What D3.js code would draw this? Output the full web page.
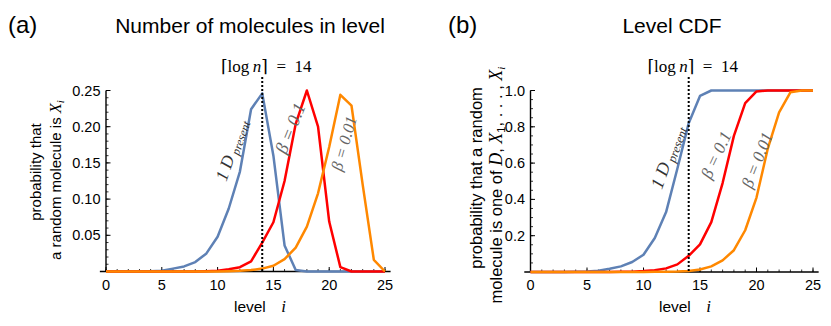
<!DOCTYPE html>
<html>
<head>
<meta charset="utf-8">
<script src="https://cdn.jsdelivr.net/npm/d3@7"></script>
<style>
  body { margin: 0; background: #fff; }
  svg { display: block; }
  text { font-family: "Liberation Sans", Arial, sans-serif; fill: #000; }
  .serif { font-family: "Liberation Serif", "DejaVu Serif", serif; }
  .it { font-style: italic; }
</style>
</head>
<body>
<svg id="chart" width="831" height="326"></svg>
<script>
// ---- data ----
const levels = [0, 1, 2, 3, 4, 5, 6, 7, 8, 9, 10, 11, 12, 13, 14, 15, 16, 17, 18, 19, 20, 21, 22, 23, 24, 25];
const logN = 14;
const xTicks = [0, 5, 10, 15, 20, 25];

// panel (a): number of molecules in level
const countTicks = [0.05, 0.10, 0.15, 0.20, 0.25];
const countTickLabels = ["0.05", "0.10", "0.15", "0.20", "0.25"];
const countOneD = [0, 0, 0, 0, 0.0005, 0.001, 0.004, 0.007, 0.013, 0.025, 0.048, 0.087, 0.138, 0.224, 0.246, 0.16, 0.036, 0.002, 0, 0, 0, 0, 0, 0, 0, 0];
const countBeta01 = [0, 0, 0, 0, 0, 0, 0, 0, 0, 0.0005, 0.001, 0.003, 0.006, 0.014, 0.04, 0.068, 0.125, 0.204, 0.25, 0.2, 0.069, 0.006, 0, 0, 0, 0];
const countBeta001 = [0, 0, 0, 0, 0, 0, 0, 0, 0, 0, 0, 0.0005, 0.001, 0.002, 0.004, 0.008, 0.017, 0.033, 0.062, 0.108, 0.172, 0.244, 0.229, 0.12, 0.016, 0];

// panel (b): level CDF
const cdfTicks = [0.2, 0.4, 0.6, 0.8, 1.0];
const cdfTickLabels = ["0.2", "0.4", "0.6", "0.8", "1.0"];
const cdfOneD = [0, 0, 0, 0, 0.001, 0.003, 0.007, 0.018, 0.031, 0.055, 0.095, 0.187, 0.33, 0.57, 0.82, 0.97, 1, 1, 1, 1, 1, 1, 1, 1, 1, 1];
const cdfBeta01 = [0, 0, 0, 0, 0, 0, 0, 0, 0.001, 0.002, 0.005, 0.01, 0.02, 0.042, 0.089, 0.152, 0.275, 0.49, 0.75, 0.93, 0.995, 1, 1, 1, 1, 1];
const cdfBeta001 = [0, 0, 0, 0, 0, 0, 0, 0, 0, 0, 0, 0.001, 0.002, 0.003, 0.006, 0.014, 0.031, 0.064, 0.12, 0.23, 0.41, 0.68, 0.88, 0.99, 1, 1];

const BLUE = "#5e81b5";
const RED = "#ff0000";
const ORANGE = "#ff8800";

const svg = d3.select("#chart");

function drawPanel(p) {
    const x = d3.scaleLinear().domain([0, 25]).range(p.xRange);
    const y = d3.scaleLinear().domain(p.yDomain).range(p.yRange);
    const g = svg.append("g").attr("class", "panel");

    // panel letter and title
    g.append("text").attr("x", p.letterX).attr("y", 32.5)
        .style("font-size", "24px").text(p.letter);
    g.append("text").attr("x", p.titleX).attr("y", 33)
        .attr("text-anchor", "middle").style("font-size", "21px").text(p.title);

    // axes
    const axis = g.append("g").attr("stroke", "#000");
    axis.append("line")
        .attr("x1", x(-0.55)).attr("x2", x(25.5))
        .attr("y1", y(0)).attr("y2", y(0)).attr("stroke-width", 1.4);
    axis.append("line")
        .attr("x1", x(0)).attr("x2", x(0))
        .attr("y1", y(0)).attr("y2", y(p.yDomain[1])).attr("stroke-width", 1.4);

    // x ticks
    axis.selectAll(".xminor").data(levels).join("line")
        .attr("x1", d => x(d)).attr("x2", d => x(d))
        .attr("y1", y(0)).attr("y2", y(0) - 2.5).attr("stroke-width", 0.8);
    axis.selectAll(".xmajor").data(xTicks).join("line")
        .attr("x1", d => x(d)).attr("x2", d => x(d))
        .attr("y1", y(0)).attr("y2", y(0) - 4.5).attr("stroke-width", 1);
    g.selectAll(".xlab").data(xTicks).join("text")
        .attr("x", d => x(d)).attr("y", 290)
        .attr("text-anchor", "middle").style("font-size", "14.5px")
        .text(d => d);

    // y ticks
    axis.selectAll(".yminor").data(y.ticks(p.minorCount)).join("line")
        .attr("x1", x(0)).attr("x2", x(0) + 2.5)
        .attr("y1", d => y(d)).attr("y2", d => y(d)).attr("stroke-width", 0.8);
    axis.selectAll(".ymajor").data(p.yTicks).join("line")
        .attr("x1", x(0)).attr("x2", x(0) + 4.5)
        .attr("y1", d => y(d)).attr("y2", d => y(d)).attr("stroke-width", 1);
    g.selectAll(".ylab").data(p.yTicks).join("text")
        .attr("x", x(0) - 5.5).attr("y", d => y(d)).attr("dy", "0.35em")
        .attr("text-anchor", "end").style("font-size", "14.5px")
        .text((d, i) => p.yTickLabels[i]);

    // curves
    const line = d3.line().x((d, i) => x(levels[i])).y(d => y(d));
    p.series.forEach(s => {
        g.append("path").datum(s.values)
            .attr("fill", "none").attr("stroke", s.color)
            .attr("stroke-width", 2.5).attr("stroke-linejoin", "round")
            .attr("d", line);
    });

    // ceil(log n) marker
    g.append("line")
        .attr("x1", x(logN)).attr("x2", x(logN))
        .attr("y1", y(p.yDomain[1]) - 13.5).attr("y2", y(0))
        .attr("stroke", "#000").attr("stroke-width", 2)
        .attr("stroke-dasharray", "2,2");
    const ann = g.append("text").attr("class", "serif")
        .attr("x", x(logN) + 4).attr("y", 71.5)
        .attr("text-anchor", "middle").style("font-size", "17px");
    ann.append("tspan").text("\u2308log\u2009");
    ann.append("tspan").attr("class", "it").text("n");
    ann.append("tspan").text("\u2309\u2002=\u2002" + logN);

    // curve labels, scaled so each one spans its measured length
    p.series.forEach(s => {
        const t = g.append("text").attr("class", "serif it")
            .attr("text-anchor", "middle").attr("dy", "0.35em")
            .style("fill", s.labelColor);
        if (s.name === "oneD") {
            t.style("font-size", "16px");
            t.append("tspan").text("1 D");
            t.append("tspan").attr("dy", 3).style("font-size", "11px").text(" present");
        } else {
            t.style("font-size", "17px");
            t.append("tspan").text(s.name);
        }
        const k = s.labelLen / t.node().getComputedTextLength();
        t.attr("transform",
            `translate(${x(s.labelAt[0])},${y(s.labelAt[1])}) rotate(${s.angle}) scale(${k})`);
    });

    // axis titles
    p.yLabel.forEach(l => {
        const t = g.append("text")
            .attr("transform", `translate(${l.x},${l.y}) rotate(-90)`)
            .attr("text-anchor", "middle").style("font-size", p.yLabelSize + "px");
        l.parts.forEach(part => {
            const ts = t.append("tspan").text(part.t);
            if (part.math) ts.attr("class", "serif it").style("font-size", (p.yLabelSize + 1.5) + "px");
            if (part.sub) ts.attr("dy", 3).style("font-size", "11px");
            if (part.up) ts.attr("dy", -3);
        });
    });
    const xl = g.append("text").attr("x", p.xLabelX).attr("y", 311.5)
        .attr("text-anchor", "middle").style("font-size", "15.5px");
    xl.append("tspan").text("level\u2003");
    xl.append("tspan").attr("class", "serif it").style("font-size", "17px").text("i");
}

drawPanel({
    letter: "(a)", letterX: 8,
    title: "Number of molecules in level", titleX: 250,
    xRange: [106, 385], yDomain: [0, 0.25], yRange: [271.5, 90.5],
    yTicks: countTicks, yTickLabels: countTickLabels, minorCount: 25,
    xLabelX: 260, yLabelSize: 15,
    yLabel: [
        { x: 41, y: 172, parts: [{ t: "probability that" }] },
        { x: 61, y: 180, parts: [{ t: "a random molecule is " }, { t: "X", math: true }, { t: "i", math: true, sub: true }] }
    ],
    series: [
        { name: "oneD", values: countOneD, color: BLUE, labelAt: [11.2, 0.168], angle: -70.5, labelLen: 64, labelColor: "#333" },
        { name: "\u03b2 = 0.1", values: countBeta01, color: RED, labelAt: [16.5, 0.198], angle: -68, labelLen: 53, labelColor: "#666" },
        { name: "\u03b2 = 0.01", values: countBeta001, color: ORANGE, labelAt: [21.3, 0.177], angle: -74, labelLen: 56, labelColor: "#666" }
    ]
});

drawPanel({
    letter: "(b)", letterX: 448,
    title: "Level CDF", titleX: 672,
    xRange: [530.5, 813], yDomain: [0, 1], yRange: [272, 90.5],
    yTicks: cdfTicks, yTickLabels: cdfTickLabels, minorCount: 20,
    xLabelX: 685, yLabelSize: 16.5,
    yLabel: [
        { x: 482, y: 178, parts: [{ t: "probability that a random" }] },
        { x: 502, y: 185, parts: [
            { t: "molecule is one of " }, { t: "D", math: true }, { t: ", " },
            { t: "X", math: true }, { t: "1", sub: true }, { t: ", . . . , ", up: true },
            { t: "X", math: true }, { t: "i", math: true, sub: true }
        ] }
    ],
    series: [
        { name: "oneD", values: cdfOneD, color: BLUE, labelAt: [12.08, 0.634], angle: -70, labelLen: 66, labelColor: "#333" },
        { name: "\u03b2 = 0.1", values: cdfBeta01, color: RED, labelAt: [16.4, 0.645], angle: -65, labelLen: 50, labelColor: "#666" },
        { name: "\u03b2 = 0.01", values: cdfBeta001, color: ORANGE, labelAt: [20.04, 0.617], angle: -68.5, labelLen: 58, labelColor: "#666" }
    ]
});
</script>
</body>
</html>
